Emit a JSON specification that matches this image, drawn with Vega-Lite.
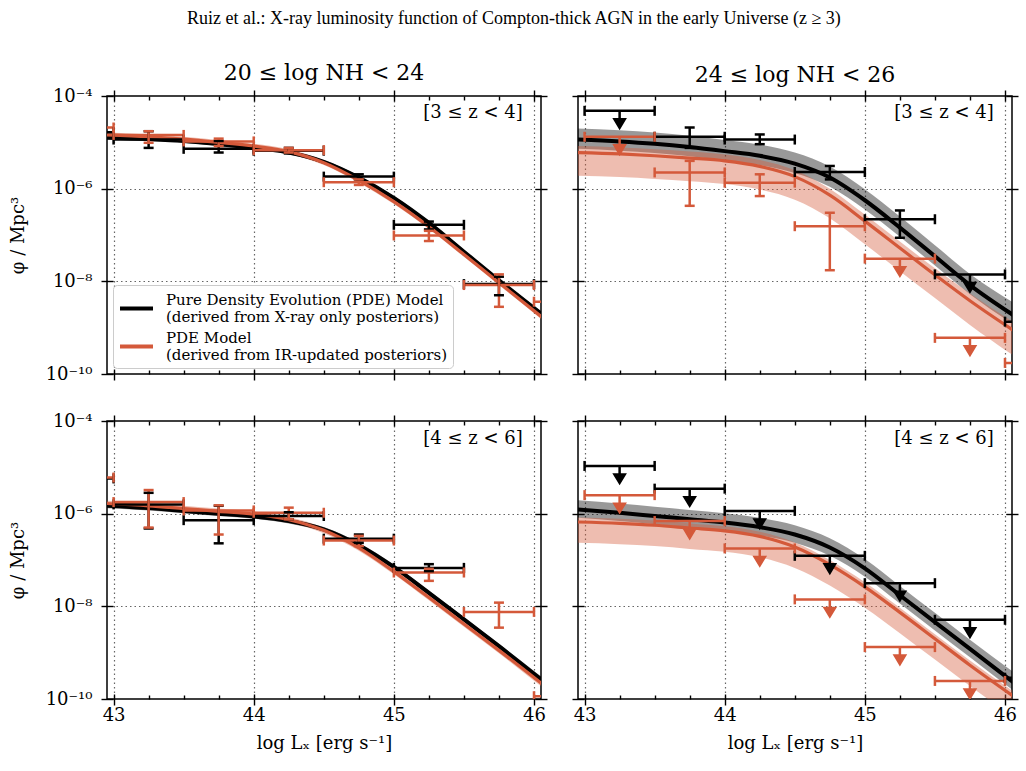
{
"$schema":"https://vega.github.io/schema/vega-lite/v6.json",
"background":"white",
"padding":{"left":8,"top":10,"right":3,"bottom":5},
"title":{"text":"Ruiz et al.: X-ray luminosity function of Compton-thick AGN in the early Universe (z ≥ 3)","font":"Liberation Serif","fontSize":18,"fontWeight":"normal","offset":33,"anchor":"middle"},
"datasets":{
"curves":[
{"p":"TL","s":"xray","x":42.95,"y":-4.90,"lo":-4.94,"hi":-4.86},
{"p":"TL","s":"xray","x":43.25,"y":-4.93,"lo":-4.97,"hi":-4.89},
{"p":"TL","s":"xray","x":43.5,"y":-4.97,"lo":-5.01,"hi":-4.93},
{"p":"TL","s":"xray","x":43.75,"y":-5.04,"lo":-5.08,"hi":-5.00},
{"p":"TL","s":"xray","x":44.0,"y":-5.12,"lo":-5.16,"hi":-5.08},
{"p":"TL","s":"xray","x":44.25,"y":-5.22,"lo":-5.26,"hi":-5.18},
{"p":"TL","s":"xray","x":44.5,"y":-5.42,"lo":-5.46,"hi":-5.38},
{"p":"TL","s":"xray","x":44.75,"y":-5.76,"lo":-5.80,"hi":-5.72},
{"p":"TL","s":"xray","x":45.0,"y":-6.20,"lo":-6.24,"hi":-6.16},
{"p":"TL","s":"xray","x":45.25,"y":-6.74,"lo":-6.78,"hi":-6.70},
{"p":"TL","s":"xray","x":45.5,"y":-7.36,"lo":-7.40,"hi":-7.32},
{"p":"TL","s":"xray","x":45.75,"y":-7.98,"lo":-8.02,"hi":-7.94},
{"p":"TL","s":"xray","x":46.06,"y":-8.72,"lo":-8.77,"hi":-8.67},
{"p":"TL","s":"ir","x":42.95,"y":-4.84,"lo":-4.89,"hi":-4.79},
{"p":"TL","s":"ir","x":43.25,"y":-4.88,"lo":-4.93,"hi":-4.83},
{"p":"TL","s":"ir","x":43.5,"y":-4.93,"lo":-4.98,"hi":-4.88},
{"p":"TL","s":"ir","x":43.75,"y":-5.00,"lo":-5.05,"hi":-4.95},
{"p":"TL","s":"ir","x":44.0,"y":-5.08,"lo":-5.13,"hi":-5.03},
{"p":"TL","s":"ir","x":44.25,"y":-5.20,"lo":-5.25,"hi":-5.15},
{"p":"TL","s":"ir","x":44.5,"y":-5.44,"lo":-5.49,"hi":-5.39},
{"p":"TL","s":"ir","x":44.75,"y":-5.82,"lo":-5.87,"hi":-5.77},
{"p":"TL","s":"ir","x":45.0,"y":-6.28,"lo":-6.33,"hi":-6.23},
{"p":"TL","s":"ir","x":45.25,"y":-6.82,"lo":-6.87,"hi":-6.77},
{"p":"TL","s":"ir","x":45.5,"y":-7.42,"lo":-7.47,"hi":-7.37},
{"p":"TL","s":"ir","x":45.75,"y":-8.03,"lo":-8.08,"hi":-7.98},
{"p":"TL","s":"ir","x":46.06,"y":-8.78,"lo":-8.84,"hi":-8.72},
{"p":"TR","s":"xray","x":42.95,"y":-4.94,"lo":-5.14,"hi":-4.70},
{"p":"TR","s":"xray","x":43.25,"y":-4.98,"lo":-5.18,"hi":-4.74},
{"p":"TR","s":"xray","x":43.5,"y":-5.03,"lo":-5.23,"hi":-4.79},
{"p":"TR","s":"xray","x":43.75,"y":-5.10,"lo":-5.30,"hi":-4.86},
{"p":"TR","s":"xray","x":44.0,"y":-5.19,"lo":-5.39,"hi":-4.95},
{"p":"TR","s":"xray","x":44.25,"y":-5.29,"lo":-5.49,"hi":-5.05},
{"p":"TR","s":"xray","x":44.5,"y":-5.46,"lo":-5.66,"hi":-5.22},
{"p":"TR","s":"xray","x":44.75,"y":-5.76,"lo":-5.96,"hi":-5.52},
{"p":"TR","s":"xray","x":45.0,"y":-6.25,"lo":-6.45,"hi":-6.01},
{"p":"TR","s":"xray","x":45.25,"y":-6.84,"lo":-7.04,"hi":-6.60},
{"p":"TR","s":"xray","x":45.5,"y":-7.46,"lo":-7.66,"hi":-7.22},
{"p":"TR","s":"xray","x":45.75,"y":-8.08,"lo":-8.28,"hi":-7.84},
{"p":"TR","s":"xray","x":46.06,"y":-8.73,"lo":-8.93,"hi":-8.46},
{"p":"TR","s":"ir","x":42.95,"y":-5.22,"lo":-5.72,"hi":-5.08},
{"p":"TR","s":"ir","x":43.25,"y":-5.25,"lo":-5.75,"hi":-5.11},
{"p":"TR","s":"ir","x":43.5,"y":-5.29,"lo":-5.79,"hi":-5.15},
{"p":"TR","s":"ir","x":43.75,"y":-5.34,"lo":-5.84,"hi":-5.20},
{"p":"TR","s":"ir","x":44.0,"y":-5.40,"lo":-5.90,"hi":-5.26},
{"p":"TR","s":"ir","x":44.25,"y":-5.52,"lo":-6.02,"hi":-5.38},
{"p":"TR","s":"ir","x":44.5,"y":-5.74,"lo":-6.24,"hi":-5.60},
{"p":"TR","s":"ir","x":44.75,"y":-6.14,"lo":-6.64,"hi":-6.00},
{"p":"TR","s":"ir","x":45.0,"y":-6.70,"lo":-7.20,"hi":-6.56},
{"p":"TR","s":"ir","x":45.25,"y":-7.28,"lo":-7.78,"hi":-7.14},
{"p":"TR","s":"ir","x":45.5,"y":-7.86,"lo":-8.36,"hi":-7.72},
{"p":"TR","s":"ir","x":45.75,"y":-8.42,"lo":-8.94,"hi":-8.26},
{"p":"TR","s":"ir","x":46.06,"y":-9.06,"lo":-9.60,"hi":-8.88},
{"p":"BL","s":"xray","x":42.95,"y":-5.83,"lo":-5.88,"hi":-5.78},
{"p":"BL","s":"xray","x":43.25,"y":-5.88,"lo":-5.93,"hi":-5.83},
{"p":"BL","s":"xray","x":43.5,"y":-5.94,"lo":-5.99,"hi":-5.89},
{"p":"BL","s":"xray","x":43.75,"y":-6.00,"lo":-6.05,"hi":-5.95},
{"p":"BL","s":"xray","x":44.0,"y":-6.06,"lo":-6.11,"hi":-6.01},
{"p":"BL","s":"xray","x":44.25,"y":-6.16,"lo":-6.21,"hi":-6.11},
{"p":"BL","s":"xray","x":44.5,"y":-6.34,"lo":-6.39,"hi":-6.29},
{"p":"BL","s":"xray","x":44.75,"y":-6.68,"lo":-6.73,"hi":-6.63},
{"p":"BL","s":"xray","x":45.0,"y":-7.15,"lo":-7.20,"hi":-7.10},
{"p":"BL","s":"xray","x":45.25,"y":-7.71,"lo":-7.76,"hi":-7.66},
{"p":"BL","s":"xray","x":45.5,"y":-8.28,"lo":-8.33,"hi":-8.23},
{"p":"BL","s":"xray","x":45.75,"y":-8.86,"lo":-8.91,"hi":-8.81},
{"p":"BL","s":"xray","x":46.06,"y":-9.60,"lo":-9.66,"hi":-9.54},
{"p":"BL","s":"ir","x":42.95,"y":-5.78,"lo":-5.84,"hi":-5.72},
{"p":"BL","s":"ir","x":43.25,"y":-5.83,"lo":-5.89,"hi":-5.77},
{"p":"BL","s":"ir","x":43.5,"y":-5.89,"lo":-5.95,"hi":-5.83},
{"p":"BL","s":"ir","x":43.75,"y":-5.95,"lo":-6.01,"hi":-5.89},
{"p":"BL","s":"ir","x":44.0,"y":-6.01,"lo":-6.07,"hi":-5.95},
{"p":"BL","s":"ir","x":44.25,"y":-6.13,"lo":-6.19,"hi":-6.07},
{"p":"BL","s":"ir","x":44.5,"y":-6.36,"lo":-6.42,"hi":-6.30},
{"p":"BL","s":"ir","x":44.75,"y":-6.74,"lo":-6.80,"hi":-6.68},
{"p":"BL","s":"ir","x":45.0,"y":-7.25,"lo":-7.31,"hi":-7.19},
{"p":"BL","s":"ir","x":45.25,"y":-7.81,"lo":-7.87,"hi":-7.75},
{"p":"BL","s":"ir","x":45.5,"y":-8.38,"lo":-8.44,"hi":-8.32},
{"p":"BL","s":"ir","x":45.75,"y":-8.95,"lo":-9.01,"hi":-8.89},
{"p":"BL","s":"ir","x":46.06,"y":-9.68,"lo":-9.75,"hi":-9.61},
{"p":"BR","s":"xray","x":42.95,"y":-5.91,"lo":-6.09,"hi":-5.71},
{"p":"BR","s":"xray","x":43.25,"y":-5.98,"lo":-6.16,"hi":-5.78},
{"p":"BR","s":"xray","x":43.5,"y":-6.05,"lo":-6.23,"hi":-5.85},
{"p":"BR","s":"xray","x":43.75,"y":-6.12,"lo":-6.30,"hi":-5.92},
{"p":"BR","s":"xray","x":44.0,"y":-6.19,"lo":-6.37,"hi":-5.99},
{"p":"BR","s":"xray","x":44.25,"y":-6.29,"lo":-6.47,"hi":-6.09},
{"p":"BR","s":"xray","x":44.5,"y":-6.45,"lo":-6.63,"hi":-6.25},
{"p":"BR","s":"xray","x":44.75,"y":-6.73,"lo":-6.91,"hi":-6.53},
{"p":"BR","s":"xray","x":45.0,"y":-7.18,"lo":-7.36,"hi":-6.98},
{"p":"BR","s":"xray","x":45.25,"y":-7.76,"lo":-7.94,"hi":-7.56},
{"p":"BR","s":"xray","x":45.5,"y":-8.34,"lo":-8.52,"hi":-8.14},
{"p":"BR","s":"xray","x":45.75,"y":-8.92,"lo":-9.10,"hi":-8.72},
{"p":"BR","s":"xray","x":46.06,"y":-9.64,"lo":-9.82,"hi":-9.42},
{"p":"BR","s":"ir","x":42.95,"y":-6.18,"lo":-6.63,"hi":-6.08},
{"p":"BR","s":"ir","x":43.25,"y":-6.21,"lo":-6.66,"hi":-6.11},
{"p":"BR","s":"ir","x":43.5,"y":-6.25,"lo":-6.70,"hi":-6.15},
{"p":"BR","s":"ir","x":43.75,"y":-6.31,"lo":-6.76,"hi":-6.21},
{"p":"BR","s":"ir","x":44.0,"y":-6.37,"lo":-6.82,"hi":-6.27},
{"p":"BR","s":"ir","x":44.25,"y":-6.49,"lo":-6.94,"hi":-6.39},
{"p":"BR","s":"ir","x":44.5,"y":-6.72,"lo":-7.17,"hi":-6.62},
{"p":"BR","s":"ir","x":44.75,"y":-7.10,"lo":-7.55,"hi":-7.00},
{"p":"BR","s":"ir","x":45.0,"y":-7.58,"lo":-8.03,"hi":-7.48},
{"p":"BR","s":"ir","x":45.25,"y":-8.13,"lo":-8.58,"hi":-8.03},
{"p":"BR","s":"ir","x":45.5,"y":-8.70,"lo":-9.15,"hi":-8.60},
{"p":"BR","s":"ir","x":45.75,"y":-9.27,"lo":-9.72,"hi":-9.17},
{"p":"BR","s":"ir","x":46.06,"y":-9.94,"lo":-10.39,"hi":-9.84}
],
"pts":[
{"p":"TL","s":"xray","x":42.75,"xlo":42.5,"xhi":43.0,"y":-4.78,"ylo":-4.83,"yhi":-4.73,"ul":false},
{"p":"TL","s":"xray","x":43.25,"xlo":43.0,"xhi":43.5,"y":-4.94,"ylo":-5.12,"yhi":-4.76,"ul":false},
{"p":"TL","s":"xray","x":43.75,"xlo":43.5,"xhi":44.0,"y":-5.14,"ylo":-5.22,"yhi":-4.97,"ul":false},
{"p":"TL","s":"xray","x":44.25,"xlo":44.0,"xhi":44.5,"y":-5.18,"ylo":-5.24,"yhi":-5.12,"ul":false},
{"p":"TL","s":"xray","x":44.75,"xlo":44.5,"xhi":45.0,"y":-5.74,"ylo":-5.80,"yhi":-5.69,"ul":false},
{"p":"TL","s":"xray","x":45.25,"xlo":45.0,"xhi":45.5,"y":-6.78,"ylo":-6.88,"yhi":-6.71,"ul":false},
{"p":"TL","s":"xray","x":45.75,"xlo":45.5,"xhi":46.0,"y":-8.06,"ylo":-8.30,"yhi":-7.90,"ul":false},
{"p":"TL","s":"ir","x":42.75,"xlo":42.5,"xhi":43.0,"y":-4.68,"ylo":-4.76,"yhi":-4.60,"ul":false},
{"p":"TL","s":"ir","x":43.25,"xlo":43.0,"xhi":43.5,"y":-4.84,"ylo":-5.01,"yhi":-4.76,"ul":false},
{"p":"TL","s":"ir","x":43.75,"xlo":43.5,"xhi":44.0,"y":-4.98,"ylo":-5.08,"yhi":-4.92,"ul":false},
{"p":"TL","s":"ir","x":44.25,"xlo":44.0,"xhi":44.5,"y":-5.17,"ylo":-5.22,"yhi":-5.12,"ul":false},
{"p":"TL","s":"ir","x":44.75,"xlo":44.5,"xhi":45.0,"y":-5.86,"ylo":-5.92,"yhi":-5.80,"ul":false},
{"p":"TL","s":"ir","x":45.25,"xlo":45.0,"xhi":45.5,"y":-7.01,"ylo":-7.13,"yhi":-6.91,"ul":false},
{"p":"TL","s":"ir","x":45.75,"xlo":45.5,"xhi":46.0,"y":-8.08,"ylo":-8.55,"yhi":-7.85,"ul":false},
{"p":"TL","s":"ir","x":46.25,"xlo":46.0,"xhi":46.5,"y":-8.44,"ylo":-8.52,"yhi":-8.36,"ul":false},
{"p":"TR","s":"xray","x":43.25,"xlo":43.0,"xhi":43.5,"y":-4.32,"ylo":null,"yhi":null,"ul":true},
{"p":"TR","s":"xray","x":43.75,"xlo":43.5,"xhi":44.0,"y":-4.88,"ylo":-5.12,"yhi":-4.68,"ul":false},
{"p":"TR","s":"xray","x":44.25,"xlo":44.0,"xhi":44.5,"y":-4.94,"ylo":-5.04,"yhi":-4.83,"ul":false},
{"p":"TR","s":"xray","x":44.75,"xlo":44.5,"xhi":45.0,"y":-5.64,"ylo":-5.80,"yhi":-5.51,"ul":false},
{"p":"TR","s":"xray","x":45.25,"xlo":45.0,"xhi":45.5,"y":-6.66,"ylo":-7.06,"yhi":-6.47,"ul":false},
{"p":"TR","s":"xray","x":45.75,"xlo":45.5,"xhi":46.0,"y":-7.85,"ylo":null,"yhi":null,"ul":true},
{"p":"TR","s":"xray","x":46.25,"xlo":46.0,"xhi":46.5,"y":-8.87,"ylo":-8.95,"yhi":-8.80,"ul":false},
{"p":"TR","s":"ir","x":43.25,"xlo":43.0,"xhi":43.5,"y":-4.88,"ylo":null,"yhi":null,"ul":true},
{"p":"TR","s":"ir","x":43.75,"xlo":43.5,"xhi":44.0,"y":-5.65,"ylo":-6.37,"yhi":-5.40,"ul":false},
{"p":"TR","s":"ir","x":44.25,"xlo":44.0,"xhi":44.5,"y":-5.87,"ylo":-6.16,"yhi":-5.69,"ul":false},
{"p":"TR","s":"ir","x":44.75,"xlo":44.5,"xhi":45.0,"y":-6.81,"ylo":-7.76,"yhi":-6.52,"ul":false},
{"p":"TR","s":"ir","x":45.25,"xlo":45.0,"xhi":45.5,"y":-7.51,"ylo":null,"yhi":null,"ul":true},
{"p":"TR","s":"ir","x":45.75,"xlo":45.5,"xhi":46.0,"y":-9.22,"ylo":null,"yhi":null,"ul":true},
{"p":"TR","s":"ir","x":46.25,"xlo":46.0,"xhi":46.5,"y":-9.76,"ylo":-9.82,"yhi":-9.70,"ul":false},
{"p":"BL","s":"xray","x":42.75,"xlo":42.5,"xhi":43.0,"y":-5.24,"ylo":-5.28,"yhi":-5.20,"ul":false},
{"p":"BL","s":"xray","x":43.25,"xlo":43.0,"xhi":43.5,"y":-5.80,"ylo":-6.32,"yhi":-5.55,"ul":false},
{"p":"BL","s":"xray","x":43.75,"xlo":43.5,"xhi":44.0,"y":-6.14,"ylo":-6.64,"yhi":-5.83,"ul":false},
{"p":"BL","s":"xray","x":44.25,"xlo":44.0,"xhi":44.5,"y":-6.05,"ylo":-6.12,"yhi":-5.97,"ul":false},
{"p":"BL","s":"xray","x":44.75,"xlo":44.5,"xhi":45.0,"y":-6.54,"ylo":-6.63,"yhi":-6.45,"ul":false},
{"p":"BL","s":"xray","x":45.25,"xlo":45.0,"xhi":45.5,"y":-7.17,"ylo":-7.24,"yhi":-7.09,"ul":false},
{"p":"BL","s":"ir","x":42.75,"xlo":42.5,"xhi":43.0,"y":-5.22,"ylo":-5.27,"yhi":-5.17,"ul":false},
{"p":"BL","s":"ir","x":43.25,"xlo":43.0,"xhi":43.5,"y":-5.75,"ylo":-6.30,"yhi":-5.49,"ul":false},
{"p":"BL","s":"ir","x":43.75,"xlo":43.5,"xhi":44.0,"y":-5.93,"ylo":-6.45,"yhi":-5.82,"ul":false},
{"p":"BL","s":"ir","x":44.25,"xlo":44.0,"xhi":44.5,"y":-5.98,"ylo":-6.12,"yhi":-5.87,"ul":false},
{"p":"BL","s":"ir","x":44.75,"xlo":44.5,"xhi":45.0,"y":-6.58,"ylo":-6.70,"yhi":-6.48,"ul":false},
{"p":"BL","s":"ir","x":45.25,"xlo":45.0,"xhi":45.5,"y":-7.27,"ylo":-7.45,"yhi":-7.19,"ul":false},
{"p":"BL","s":"ir","x":45.75,"xlo":45.5,"xhi":46.0,"y":-8.12,"ylo":-8.46,"yhi":-7.92,"ul":false},
{"p":"BL","s":"ir","x":46.25,"xlo":46.0,"xhi":46.5,"y":-9.94,"ylo":-10.0,"yhi":-9.88,"ul":false},
{"p":"BR","s":"xray","x":43.25,"xlo":43.0,"xhi":43.5,"y":-4.97,"ylo":null,"yhi":null,"ul":true},
{"p":"BR","s":"xray","x":43.75,"xlo":43.5,"xhi":44.0,"y":-5.46,"ylo":null,"yhi":null,"ul":true},
{"p":"BR","s":"xray","x":44.25,"xlo":44.0,"xhi":44.5,"y":-5.94,"ylo":null,"yhi":null,"ul":true},
{"p":"BR","s":"xray","x":44.75,"xlo":44.5,"xhi":45.0,"y":-6.91,"ylo":null,"yhi":null,"ul":true},
{"p":"BR","s":"xray","x":45.25,"xlo":45.0,"xhi":45.5,"y":-7.50,"ylo":null,"yhi":null,"ul":true},
{"p":"BR","s":"xray","x":45.75,"xlo":45.5,"xhi":46.0,"y":-8.29,"ylo":null,"yhi":null,"ul":true},
{"p":"BR","s":"xray","x":46.25,"xlo":46.0,"xhi":46.5,"y":-9.54,"ylo":-9.60,"yhi":-9.48,"ul":false},
{"p":"BR","s":"ir","x":43.25,"xlo":43.0,"xhi":43.5,"y":-5.60,"ylo":null,"yhi":null,"ul":true},
{"p":"BR","s":"ir","x":43.75,"xlo":43.5,"xhi":44.0,"y":-6.16,"ylo":null,"yhi":null,"ul":true},
{"p":"BR","s":"ir","x":44.25,"xlo":44.0,"xhi":44.5,"y":-6.75,"ylo":null,"yhi":null,"ul":true},
{"p":"BR","s":"ir","x":44.75,"xlo":44.5,"xhi":45.0,"y":-7.85,"ylo":null,"yhi":null,"ul":true},
{"p":"BR","s":"ir","x":45.25,"xlo":45.0,"xhi":45.5,"y":-8.88,"ylo":null,"yhi":null,"ul":true},
{"p":"BR","s":"ir","x":45.75,"xlo":45.5,"xhi":46.0,"y":-9.61,"ylo":null,"yhi":null,"ul":true}
]
},
"columns":2,
"spacing":{"row":27,"column":21},
"align":"each",
"resolve":{"scale":{"color":"independent"}},
"concat":[
{"width":434,"height":278,"title":{"text":"20 ≤ log NH < 24"},
"resolve":{"axis":{"x":"independent","y":"independent"}},
"layer":[
{"data":{"name":"curves"},"transform":[{"filter":"datum.p=='TL' && datum.s=='xray'"}],"mark":{"type":"area","color":"#000000","opacity":0.4,"interpolate":"monotone","clip":true},
"encoding":{"x":{"field":"x","type":"quantitative","scale":{"domain":[42.953,46.05],"nice":false,"zero":false},"axis":{"orient":"bottom","values":[43,44,45,46],"offset":-5,"tickSize":11,"labels":false,"title":null}},
"y":{"field":"lo","type":"quantitative","scale":{"domain":[-10,-4],"nice":false,"zero":false},"axis":{"orient":"left","values":[-10,-8,-6,-4],"offset":-6,"tickSize":12,"labelPadding":9,"labelExpr":"datum.value == -4 ? '10⁻⁴' : datum.value == -6 ? '10⁻⁶' : datum.value == -8 ? '10⁻⁸' : '10⁻¹⁰'","title":"φ / Mpc³","titlePadding":18}},
"y2":{"field":"hi"}}},
{"data":{"name":"curves"},"transform":[{"filter":"datum.p=='TL' && datum.s=='ir'"}],"mark":{"type":"area","color":"#d4593a","opacity":0.4,"interpolate":"monotone","clip":true},
"encoding":{"x":{"field":"x","type":"quantitative","scale":{"domain":[42.953,46.05],"nice":false,"zero":false},"axis":{"orient":"bottom","values":[43.25,43.5,43.75,44.25,44.5,44.75,45.25,45.5,45.75],"tickSize":-4,"labels":false,"title":null}},
"y":{"field":"lo","type":"quantitative","scale":{"domain":[-10,-4],"nice":false,"zero":false},"axis":{"orient":"right","values":[-10,-8,-6,-4],"offset":-6,"tickSize":12,"labels":false,"title":null}},
"y2":{"field":"hi"}}},
{"data":{"name":"curves"},"transform":[{"filter":"datum.p=='TL' && datum.s=='xray'"}],"mark":{"type":"line","strokeWidth":4,"interpolate":"monotone","clip":true},
"encoding":{"x":{"field":"x","type":"quantitative","scale":{"domain":[42.953,46.05],"nice":false,"zero":false},"axis":{"orient":"top","values":[43,44,45,46],"offset":-5,"tickSize":11,"labels":false,"title":null}},
"y":{"field":"y","type":"quantitative","scale":{"domain":[-10,-4],"nice":false,"zero":false},"axis":{"orient":"left","values":[-8,-6],"ticks":false,"labels":false,"title":null,"grid":true,"gridDash":[1.5,3],"gridColor":"#666666","gridWidth":1.2}},
"color":{"field":"s","type":"nominal","scale":{"domain":["xray","ir"],"range":["#000000","#d4593a"]},"legend":{"title":null,"orient":"bottom-left","offset":6,"labelExpr":"datum.value == 'xray' ? ['Pure Density Evolution (PDE) Model', '\u00a0(derived from X-ray only posteriors)'] : ['PDE Model', '\u00a0(derived from IR-updated posteriors)']","labelBaseline":"line-bottom","symbolType":"stroke","symbolSize":1089,"symbolStrokeWidth":4,"labelFont":"DejaVu Serif","labelFontSize":15,"labelColor":"black","labelLimit":600,"labelOffset":11,"rowPadding":3,"padding":5,"fillColor":"white","strokeColor":"#cccccc","cornerRadius":4}}}},
{"data":{"name":"curves"},"transform":[{"filter":"datum.p=='TL' && datum.s=='ir'"}],"mark":{"type":"line","strokeWidth":3.2,"interpolate":"monotone","clip":true},
"encoding":{"x":{"field":"x","type":"quantitative","scale":{"domain":[42.953,46.05],"nice":false,"zero":false},"axis":{"orient":"top","values":[43.25,43.5,43.75,44.25,44.5,44.75,45.25,45.5,45.75],"tickSize":-4,"labels":false,"title":null}},
"y":{"field":"y","type":"quantitative","scale":{"domain":[-10,-4],"nice":false,"zero":false},"axis":null},
"color":{"field":"s","type":"nominal","scale":{"domain":["xray","ir"],"range":["#000000","#d4593a"]},"legend":null}}},
{"data":{"name":"pts"},"transform":[{"filter":"datum.p=='TL'"}],"mark":{"type":"rule","strokeWidth":2.5,"clip":true},
"encoding":{"x":{"field":"xlo","type":"quantitative","scale":{"domain":[42.953,46.05],"nice":false,"zero":false},"axis":{"orient":"bottom","values":[43,44,45,46],"ticks":false,"labels":false,"title":null,"grid":true,"gridDash":[1.5,3],"gridColor":"#666666","gridWidth":1.2}},"x2":{"field":"xhi"},
"y":{"field":"y","type":"quantitative","scale":{"domain":[-10,-4],"nice":false,"zero":false},"axis":null},
"color":{"field":"s","type":"nominal","scale":{"domain":["xray","ir"],"range":["#000000","#d4593a"]},"legend":null}}},
{"data":{"name":"pts"},"transform":[{"filter":"datum.p=='TL' && !datum.ul"}],"mark":{"type":"rule","strokeWidth":2.5,"clip":true},
"encoding":{"x":{"field":"x","type":"quantitative","scale":{"domain":[42.953,46.05],"nice":false,"zero":false},"axis":null},
"y":{"field":"ylo","type":"quantitative","scale":{"domain":[-10,-4],"nice":false,"zero":false},"axis":null},"y2":{"field":"yhi"},
"color":{"field":"s","type":"nominal","scale":{"domain":["xray","ir"],"range":["#000000","#d4593a"]},"legend":null}}},
{"data":{"name":"pts"},"transform":[{"filter":"datum.p=='TL'"},{"fold":["xlo","xhi"],"as":["k","xc"]}],"mark":{"type":"point","shape":"M0,-1L0,1","size":100,"filled":false,"strokeWidth":2.5,"opacity":1,"clip":true},
"encoding":{"x":{"field":"xc","type":"quantitative","scale":{"domain":[42.953,46.05],"nice":false,"zero":false},"axis":null},
"y":{"field":"y","type":"quantitative","scale":{"domain":[-10,-4],"nice":false,"zero":false},"axis":null},
"color":{"field":"s","type":"nominal","scale":{"domain":["xray","ir"],"range":["#000000","#d4593a"]},"legend":null}}},
{"data":{"name":"pts"},"transform":[{"filter":"datum.p=='TL' && !datum.ul"},{"fold":["ylo","yhi"],"as":["k","yc"]}],"mark":{"type":"point","shape":"M-1,0L1,0","size":100,"filled":false,"strokeWidth":2.5,"opacity":1,"clip":true},
"encoding":{"x":{"field":"x","type":"quantitative","scale":{"domain":[42.953,46.05],"nice":false,"zero":false},"axis":null},
"y":{"field":"yc","type":"quantitative","scale":{"domain":[-10,-4],"nice":false,"zero":false},"axis":null},
"color":{"field":"s","type":"nominal","scale":{"domain":["xray","ir"],"range":["#000000","#d4593a"]},"legend":null}}},
{"data":{"values":[{"t":"[3 ≤ z < 4]"}]},"mark":{"type":"text","align":"right","baseline":"middle","font":"DejaVu Serif","fontSize":18,"color":"black"},
"encoding":{"x":{"datum":45.92,"type":"quantitative","scale":{"domain":[42.953,46.05],"nice":false,"zero":false},"axis":null},"y":{"datum":-4.37,"type":"quantitative","scale":{"domain":[-10,-4],"nice":false,"zero":false},"axis":null},"text":{"field":"t"}}}
]},
{"width":434,"height":278,"title":{"text":"24 ≤ log NH < 26"},
"resolve":{"axis":{"x":"independent","y":"independent"}},
"layer":[
{"data":{"name":"curves"},"transform":[{"filter":"datum.p=='TR' && datum.s=='xray'"}],"mark":{"type":"area","color":"#000000","opacity":0.4,"interpolate":"monotone","clip":true},
"encoding":{"x":{"field":"x","type":"quantitative","scale":{"domain":[42.953,46.05],"nice":false,"zero":false},"axis":{"orient":"bottom","values":[43,44,45,46],"offset":-5,"tickSize":11,"labels":false,"title":null}},
"y":{"field":"lo","type":"quantitative","scale":{"domain":[-10,-4],"nice":false,"zero":false},"axis":{"orient":"left","values":[-10,-8,-6,-4],"offset":-6,"tickSize":12,"labels":false,"title":null}},
"y2":{"field":"hi"}}},
{"data":{"name":"curves"},"transform":[{"filter":"datum.p=='TR' && datum.s=='ir'"}],"mark":{"type":"area","color":"#d4593a","opacity":0.4,"interpolate":"monotone","clip":true},
"encoding":{"x":{"field":"x","type":"quantitative","scale":{"domain":[42.953,46.05],"nice":false,"zero":false},"axis":{"orient":"bottom","values":[43.25,43.5,43.75,44.25,44.5,44.75,45.25,45.5,45.75],"tickSize":-4,"labels":false,"title":null}},
"y":{"field":"lo","type":"quantitative","scale":{"domain":[-10,-4],"nice":false,"zero":false},"axis":{"orient":"right","values":[-10,-8,-6,-4],"offset":-6,"tickSize":12,"labels":false,"title":null}},
"y2":{"field":"hi"}}},
{"data":{"name":"curves"},"transform":[{"filter":"datum.p=='TR' && datum.s=='xray'"}],"mark":{"type":"line","strokeWidth":4,"interpolate":"monotone","clip":true},
"encoding":{"x":{"field":"x","type":"quantitative","scale":{"domain":[42.953,46.05],"nice":false,"zero":false},"axis":{"orient":"top","values":[43,44,45,46],"offset":-5,"tickSize":11,"labels":false,"title":null}},
"y":{"field":"y","type":"quantitative","scale":{"domain":[-10,-4],"nice":false,"zero":false},"axis":{"orient":"left","values":[-8,-6],"ticks":false,"labels":false,"title":null,"grid":true,"gridDash":[1.5,3],"gridColor":"#666666","gridWidth":1.2}},
"color":{"field":"s","type":"nominal","scale":{"domain":["xray","ir"],"range":["#000000","#d4593a"]},"legend":null}}},
{"data":{"name":"curves"},"transform":[{"filter":"datum.p=='TR' && datum.s=='ir'"}],"mark":{"type":"line","strokeWidth":3.2,"interpolate":"monotone","clip":true},
"encoding":{"x":{"field":"x","type":"quantitative","scale":{"domain":[42.953,46.05],"nice":false,"zero":false},"axis":{"orient":"top","values":[43.25,43.5,43.75,44.25,44.5,44.75,45.25,45.5,45.75],"tickSize":-4,"labels":false,"title":null}},
"y":{"field":"y","type":"quantitative","scale":{"domain":[-10,-4],"nice":false,"zero":false},"axis":null},
"color":{"field":"s","type":"nominal","scale":{"domain":["xray","ir"],"range":["#000000","#d4593a"]},"legend":null}}},
{"data":{"name":"pts"},"transform":[{"filter":"datum.p=='TR'"}],"mark":{"type":"rule","strokeWidth":2.5,"clip":true},
"encoding":{"x":{"field":"xlo","type":"quantitative","scale":{"domain":[42.953,46.05],"nice":false,"zero":false},"axis":{"orient":"bottom","values":[43,44,45,46],"ticks":false,"labels":false,"title":null,"grid":true,"gridDash":[1.5,3],"gridColor":"#666666","gridWidth":1.2}},"x2":{"field":"xhi"},
"y":{"field":"y","type":"quantitative","scale":{"domain":[-10,-4],"nice":false,"zero":false},"axis":null},
"color":{"field":"s","type":"nominal","scale":{"domain":["xray","ir"],"range":["#000000","#d4593a"]},"legend":null}}},
{"data":{"name":"pts"},"transform":[{"filter":"datum.p=='TR' && !datum.ul"}],"mark":{"type":"rule","strokeWidth":2.5,"clip":true},
"encoding":{"x":{"field":"x","type":"quantitative","scale":{"domain":[42.953,46.05],"nice":false,"zero":false},"axis":null},
"y":{"field":"ylo","type":"quantitative","scale":{"domain":[-10,-4],"nice":false,"zero":false},"axis":null},"y2":{"field":"yhi"},
"color":{"field":"s","type":"nominal","scale":{"domain":["xray","ir"],"range":["#000000","#d4593a"]},"legend":null}}},
{"data":{"name":"pts"},"transform":[{"filter":"datum.p=='TR'"},{"fold":["xlo","xhi"],"as":["k","xc"]}],"mark":{"type":"point","shape":"M0,-1L0,1","size":100,"filled":false,"strokeWidth":2.5,"opacity":1,"clip":true},
"encoding":{"x":{"field":"xc","type":"quantitative","scale":{"domain":[42.953,46.05],"nice":false,"zero":false},"axis":null},
"y":{"field":"y","type":"quantitative","scale":{"domain":[-10,-4],"nice":false,"zero":false},"axis":null},
"color":{"field":"s","type":"nominal","scale":{"domain":["xray","ir"],"range":["#000000","#d4593a"]},"legend":null}}},
{"data":{"name":"pts"},"transform":[{"filter":"datum.p=='TR' && !datum.ul"},{"fold":["ylo","yhi"],"as":["k","yc"]}],"mark":{"type":"point","shape":"M-1,0L1,0","size":100,"filled":false,"strokeWidth":2.5,"opacity":1,"clip":true},
"encoding":{"x":{"field":"x","type":"quantitative","scale":{"domain":[42.953,46.05],"nice":false,"zero":false},"axis":null},
"y":{"field":"yc","type":"quantitative","scale":{"domain":[-10,-4],"nice":false,"zero":false},"axis":null},
"color":{"field":"s","type":"nominal","scale":{"domain":["xray","ir"],"range":["#000000","#d4593a"]},"legend":null}}},
{"data":{"name":"pts"},"transform":[{"filter":"datum.p=='TR' && datum.ul"}],"mark":{"type":"point","shape":"M0,0L0,1.1M-0.6,1L0.6,1L0,2Z","size":289,"filled":true,"strokeWidth":2.5,"opacity":1,"clip":true},
"encoding":{"x":{"field":"x","type":"quantitative","scale":{"domain":[42.953,46.05],"nice":false,"zero":false},"axis":null},
"y":{"field":"y","type":"quantitative","scale":{"domain":[-10,-4],"nice":false,"zero":false},"axis":null},
"fill":{"field":"s","type":"nominal","scale":{"domain":["xray","ir"],"range":["#000000","#d4593a"]},"legend":null},
"stroke":{"field":"s","type":"nominal","scale":{"domain":["xray","ir"],"range":["#000000","#d4593a"]},"legend":null}}},
{"data":{"values":[{"t":"[3 ≤ z < 4]"}]},"mark":{"type":"text","align":"right","baseline":"middle","font":"DejaVu Serif","fontSize":18,"color":"black"},
"encoding":{"x":{"datum":45.92,"type":"quantitative","scale":{"domain":[42.953,46.05],"nice":false,"zero":false},"axis":null},"y":{"datum":-4.37,"type":"quantitative","scale":{"domain":[-10,-4],"nice":false,"zero":false},"axis":null},"text":{"field":"t"}}}
]},
{"width":434,"height":278,
"resolve":{"axis":{"x":"independent","y":"independent"}},
"layer":[
{"data":{"name":"curves"},"transform":[{"filter":"datum.p=='BL' && datum.s=='xray'"}],"mark":{"type":"area","color":"#000000","opacity":0.4,"interpolate":"monotone","clip":true},
"encoding":{"x":{"field":"x","type":"quantitative","scale":{"domain":[42.953,46.05],"nice":false,"zero":false},"axis":{"orient":"bottom","values":[43,44,45,46],"offset":-5,"tickSize":11,"labelPadding":1,"format":"d","title":"log Lₓ [erg s⁻¹]","titlePadding":10}},
"y":{"field":"lo","type":"quantitative","scale":{"domain":[-10,-4],"nice":false,"zero":false},"axis":{"orient":"left","values":[-10,-8,-6,-4],"offset":-6,"tickSize":12,"labelPadding":9,"labelExpr":"datum.value == -4 ? '10⁻⁴' : datum.value == -6 ? '10⁻⁶' : datum.value == -8 ? '10⁻⁸' : '10⁻¹⁰'","title":"φ / Mpc³","titlePadding":18}},
"y2":{"field":"hi"}}},
{"data":{"name":"curves"},"transform":[{"filter":"datum.p=='BL' && datum.s=='ir'"}],"mark":{"type":"area","color":"#d4593a","opacity":0.4,"interpolate":"monotone","clip":true},
"encoding":{"x":{"field":"x","type":"quantitative","scale":{"domain":[42.953,46.05],"nice":false,"zero":false},"axis":{"orient":"bottom","values":[43.25,43.5,43.75,44.25,44.5,44.75,45.25,45.5,45.75],"tickSize":-4,"labels":false,"title":null}},
"y":{"field":"lo","type":"quantitative","scale":{"domain":[-10,-4],"nice":false,"zero":false},"axis":{"orient":"right","values":[-10,-8,-6,-4],"offset":-6,"tickSize":12,"labels":false,"title":null}},
"y2":{"field":"hi"}}},
{"data":{"name":"curves"},"transform":[{"filter":"datum.p=='BL' && datum.s=='xray'"}],"mark":{"type":"line","strokeWidth":4,"interpolate":"monotone","clip":true},
"encoding":{"x":{"field":"x","type":"quantitative","scale":{"domain":[42.953,46.05],"nice":false,"zero":false},"axis":{"orient":"top","values":[43,44,45,46],"offset":-5,"tickSize":11,"labels":false,"title":null}},
"y":{"field":"y","type":"quantitative","scale":{"domain":[-10,-4],"nice":false,"zero":false},"axis":{"orient":"left","values":[-8,-6],"ticks":false,"labels":false,"title":null,"grid":true,"gridDash":[1.5,3],"gridColor":"#666666","gridWidth":1.2}},
"color":{"field":"s","type":"nominal","scale":{"domain":["xray","ir"],"range":["#000000","#d4593a"]},"legend":null}}},
{"data":{"name":"curves"},"transform":[{"filter":"datum.p=='BL' && datum.s=='ir'"}],"mark":{"type":"line","strokeWidth":3.2,"interpolate":"monotone","clip":true},
"encoding":{"x":{"field":"x","type":"quantitative","scale":{"domain":[42.953,46.05],"nice":false,"zero":false},"axis":{"orient":"top","values":[43.25,43.5,43.75,44.25,44.5,44.75,45.25,45.5,45.75],"tickSize":-4,"labels":false,"title":null}},
"y":{"field":"y","type":"quantitative","scale":{"domain":[-10,-4],"nice":false,"zero":false},"axis":null},
"color":{"field":"s","type":"nominal","scale":{"domain":["xray","ir"],"range":["#000000","#d4593a"]},"legend":null}}},
{"data":{"name":"pts"},"transform":[{"filter":"datum.p=='BL'"}],"mark":{"type":"rule","strokeWidth":2.5,"clip":true},
"encoding":{"x":{"field":"xlo","type":"quantitative","scale":{"domain":[42.953,46.05],"nice":false,"zero":false},"axis":{"orient":"bottom","values":[43,44,45,46],"ticks":false,"labels":false,"title":null,"grid":true,"gridDash":[1.5,3],"gridColor":"#666666","gridWidth":1.2}},"x2":{"field":"xhi"},
"y":{"field":"y","type":"quantitative","scale":{"domain":[-10,-4],"nice":false,"zero":false},"axis":null},
"color":{"field":"s","type":"nominal","scale":{"domain":["xray","ir"],"range":["#000000","#d4593a"]},"legend":null}}},
{"data":{"name":"pts"},"transform":[{"filter":"datum.p=='BL' && !datum.ul"}],"mark":{"type":"rule","strokeWidth":2.5,"clip":true},
"encoding":{"x":{"field":"x","type":"quantitative","scale":{"domain":[42.953,46.05],"nice":false,"zero":false},"axis":null},
"y":{"field":"ylo","type":"quantitative","scale":{"domain":[-10,-4],"nice":false,"zero":false},"axis":null},"y2":{"field":"yhi"},
"color":{"field":"s","type":"nominal","scale":{"domain":["xray","ir"],"range":["#000000","#d4593a"]},"legend":null}}},
{"data":{"name":"pts"},"transform":[{"filter":"datum.p=='BL'"},{"fold":["xlo","xhi"],"as":["k","xc"]}],"mark":{"type":"point","shape":"M0,-1L0,1","size":100,"filled":false,"strokeWidth":2.5,"opacity":1,"clip":true},
"encoding":{"x":{"field":"xc","type":"quantitative","scale":{"domain":[42.953,46.05],"nice":false,"zero":false},"axis":null},
"y":{"field":"y","type":"quantitative","scale":{"domain":[-10,-4],"nice":false,"zero":false},"axis":null},
"color":{"field":"s","type":"nominal","scale":{"domain":["xray","ir"],"range":["#000000","#d4593a"]},"legend":null}}},
{"data":{"name":"pts"},"transform":[{"filter":"datum.p=='BL' && !datum.ul"},{"fold":["ylo","yhi"],"as":["k","yc"]}],"mark":{"type":"point","shape":"M-1,0L1,0","size":100,"filled":false,"strokeWidth":2.5,"opacity":1,"clip":true},
"encoding":{"x":{"field":"x","type":"quantitative","scale":{"domain":[42.953,46.05],"nice":false,"zero":false},"axis":null},
"y":{"field":"yc","type":"quantitative","scale":{"domain":[-10,-4],"nice":false,"zero":false},"axis":null},
"color":{"field":"s","type":"nominal","scale":{"domain":["xray","ir"],"range":["#000000","#d4593a"]},"legend":null}}},
{"data":{"values":[{"t":"[4 ≤ z < 6]"}]},"mark":{"type":"text","align":"right","baseline":"middle","font":"DejaVu Serif","fontSize":18,"color":"black"},
"encoding":{"x":{"datum":45.92,"type":"quantitative","scale":{"domain":[42.953,46.05],"nice":false,"zero":false},"axis":null},"y":{"datum":-4.38,"type":"quantitative","scale":{"domain":[-10,-4],"nice":false,"zero":false},"axis":null},"text":{"field":"t"}}}
]},
{"width":434,"height":278,
"resolve":{"axis":{"x":"independent","y":"independent"}},
"layer":[
{"data":{"name":"curves"},"transform":[{"filter":"datum.p=='BR' && datum.s=='xray'"}],"mark":{"type":"area","color":"#000000","opacity":0.4,"interpolate":"monotone","clip":true},
"encoding":{"x":{"field":"x","type":"quantitative","scale":{"domain":[42.953,46.05],"nice":false,"zero":false},"axis":{"orient":"bottom","values":[43,44,45,46],"offset":-5,"tickSize":11,"labelPadding":1,"format":"d","title":"log Lₓ [erg s⁻¹]","titlePadding":10}},
"y":{"field":"lo","type":"quantitative","scale":{"domain":[-10,-4],"nice":false,"zero":false},"axis":{"orient":"left","values":[-10,-8,-6,-4],"offset":-6,"tickSize":12,"labels":false,"title":null}},
"y2":{"field":"hi"}}},
{"data":{"name":"curves"},"transform":[{"filter":"datum.p=='BR' && datum.s=='ir'"}],"mark":{"type":"area","color":"#d4593a","opacity":0.4,"interpolate":"monotone","clip":true},
"encoding":{"x":{"field":"x","type":"quantitative","scale":{"domain":[42.953,46.05],"nice":false,"zero":false},"axis":{"orient":"bottom","values":[43.25,43.5,43.75,44.25,44.5,44.75,45.25,45.5,45.75],"tickSize":-4,"labels":false,"title":null}},
"y":{"field":"lo","type":"quantitative","scale":{"domain":[-10,-4],"nice":false,"zero":false},"axis":{"orient":"right","values":[-10,-8,-6,-4],"offset":-6,"tickSize":12,"labels":false,"title":null}},
"y2":{"field":"hi"}}},
{"data":{"name":"curves"},"transform":[{"filter":"datum.p=='BR' && datum.s=='xray'"}],"mark":{"type":"line","strokeWidth":4,"interpolate":"monotone","clip":true},
"encoding":{"x":{"field":"x","type":"quantitative","scale":{"domain":[42.953,46.05],"nice":false,"zero":false},"axis":{"orient":"top","values":[43,44,45,46],"offset":-5,"tickSize":11,"labels":false,"title":null}},
"y":{"field":"y","type":"quantitative","scale":{"domain":[-10,-4],"nice":false,"zero":false},"axis":{"orient":"left","values":[-8,-6],"ticks":false,"labels":false,"title":null,"grid":true,"gridDash":[1.5,3],"gridColor":"#666666","gridWidth":1.2}},
"color":{"field":"s","type":"nominal","scale":{"domain":["xray","ir"],"range":["#000000","#d4593a"]},"legend":null}}},
{"data":{"name":"curves"},"transform":[{"filter":"datum.p=='BR' && datum.s=='ir'"}],"mark":{"type":"line","strokeWidth":3.2,"interpolate":"monotone","clip":true},
"encoding":{"x":{"field":"x","type":"quantitative","scale":{"domain":[42.953,46.05],"nice":false,"zero":false},"axis":{"orient":"top","values":[43.25,43.5,43.75,44.25,44.5,44.75,45.25,45.5,45.75],"tickSize":-4,"labels":false,"title":null}},
"y":{"field":"y","type":"quantitative","scale":{"domain":[-10,-4],"nice":false,"zero":false},"axis":null},
"color":{"field":"s","type":"nominal","scale":{"domain":["xray","ir"],"range":["#000000","#d4593a"]},"legend":null}}},
{"data":{"name":"pts"},"transform":[{"filter":"datum.p=='BR'"}],"mark":{"type":"rule","strokeWidth":2.5,"clip":true},
"encoding":{"x":{"field":"xlo","type":"quantitative","scale":{"domain":[42.953,46.05],"nice":false,"zero":false},"axis":{"orient":"bottom","values":[43,44,45,46],"ticks":false,"labels":false,"title":null,"grid":true,"gridDash":[1.5,3],"gridColor":"#666666","gridWidth":1.2}},"x2":{"field":"xhi"},
"y":{"field":"y","type":"quantitative","scale":{"domain":[-10,-4],"nice":false,"zero":false},"axis":null},
"color":{"field":"s","type":"nominal","scale":{"domain":["xray","ir"],"range":["#000000","#d4593a"]},"legend":null}}},
{"data":{"name":"pts"},"transform":[{"filter":"datum.p=='BR' && !datum.ul"}],"mark":{"type":"rule","strokeWidth":2.5,"clip":true},
"encoding":{"x":{"field":"x","type":"quantitative","scale":{"domain":[42.953,46.05],"nice":false,"zero":false},"axis":null},
"y":{"field":"ylo","type":"quantitative","scale":{"domain":[-10,-4],"nice":false,"zero":false},"axis":null},"y2":{"field":"yhi"},
"color":{"field":"s","type":"nominal","scale":{"domain":["xray","ir"],"range":["#000000","#d4593a"]},"legend":null}}},
{"data":{"name":"pts"},"transform":[{"filter":"datum.p=='BR'"},{"fold":["xlo","xhi"],"as":["k","xc"]}],"mark":{"type":"point","shape":"M0,-1L0,1","size":100,"filled":false,"strokeWidth":2.5,"opacity":1,"clip":true},
"encoding":{"x":{"field":"xc","type":"quantitative","scale":{"domain":[42.953,46.05],"nice":false,"zero":false},"axis":null},
"y":{"field":"y","type":"quantitative","scale":{"domain":[-10,-4],"nice":false,"zero":false},"axis":null},
"color":{"field":"s","type":"nominal","scale":{"domain":["xray","ir"],"range":["#000000","#d4593a"]},"legend":null}}},
{"data":{"name":"pts"},"transform":[{"filter":"datum.p=='BR' && !datum.ul"},{"fold":["ylo","yhi"],"as":["k","yc"]}],"mark":{"type":"point","shape":"M-1,0L1,0","size":100,"filled":false,"strokeWidth":2.5,"opacity":1,"clip":true},
"encoding":{"x":{"field":"x","type":"quantitative","scale":{"domain":[42.953,46.05],"nice":false,"zero":false},"axis":null},
"y":{"field":"yc","type":"quantitative","scale":{"domain":[-10,-4],"nice":false,"zero":false},"axis":null},
"color":{"field":"s","type":"nominal","scale":{"domain":["xray","ir"],"range":["#000000","#d4593a"]},"legend":null}}},
{"data":{"name":"pts"},"transform":[{"filter":"datum.p=='BR' && datum.ul"}],"mark":{"type":"point","shape":"M0,0L0,1.1M-0.6,1L0.6,1L0,2Z","size":289,"filled":true,"strokeWidth":2.5,"opacity":1,"clip":true},
"encoding":{"x":{"field":"x","type":"quantitative","scale":{"domain":[42.953,46.05],"nice":false,"zero":false},"axis":null},
"y":{"field":"y","type":"quantitative","scale":{"domain":[-10,-4],"nice":false,"zero":false},"axis":null},
"fill":{"field":"s","type":"nominal","scale":{"domain":["xray","ir"],"range":["#000000","#d4593a"]},"legend":null},
"stroke":{"field":"s","type":"nominal","scale":{"domain":["xray","ir"],"range":["#000000","#d4593a"]},"legend":null}}},
{"data":{"values":[{"t":"[4 ≤ z < 6]"}]},"mark":{"type":"text","align":"right","baseline":"middle","font":"DejaVu Serif","fontSize":18,"color":"black"},
"encoding":{"x":{"datum":45.92,"type":"quantitative","scale":{"domain":[42.953,46.05],"nice":false,"zero":false},"axis":null},"y":{"datum":-4.38,"type":"quantitative","scale":{"domain":[-10,-4],"nice":false,"zero":false},"axis":null},"text":{"field":"t"}}}
]}
],
"config":{
"font":"DejaVu Serif",
"view":{"stroke":"#000000","strokeWidth":1.5},
"axis":{"minExtent":0,"domain":false,"grid":false,"labelFont":"DejaVu Serif","labelFontSize":18,"labelColor":"#000000","labelFlush":false,"labelOverlap":false,"labelBound":false,"titleFont":"DejaVu Serif","titleFontSize":18,"titleFontWeight":"normal","titleColor":"#000000","tickColor":"#000000","tickWidth":1.4},
"title":{"font":"DejaVu Serif","fontSize":22,"fontWeight":"normal","color":"#000000","offset":2}
}
}
